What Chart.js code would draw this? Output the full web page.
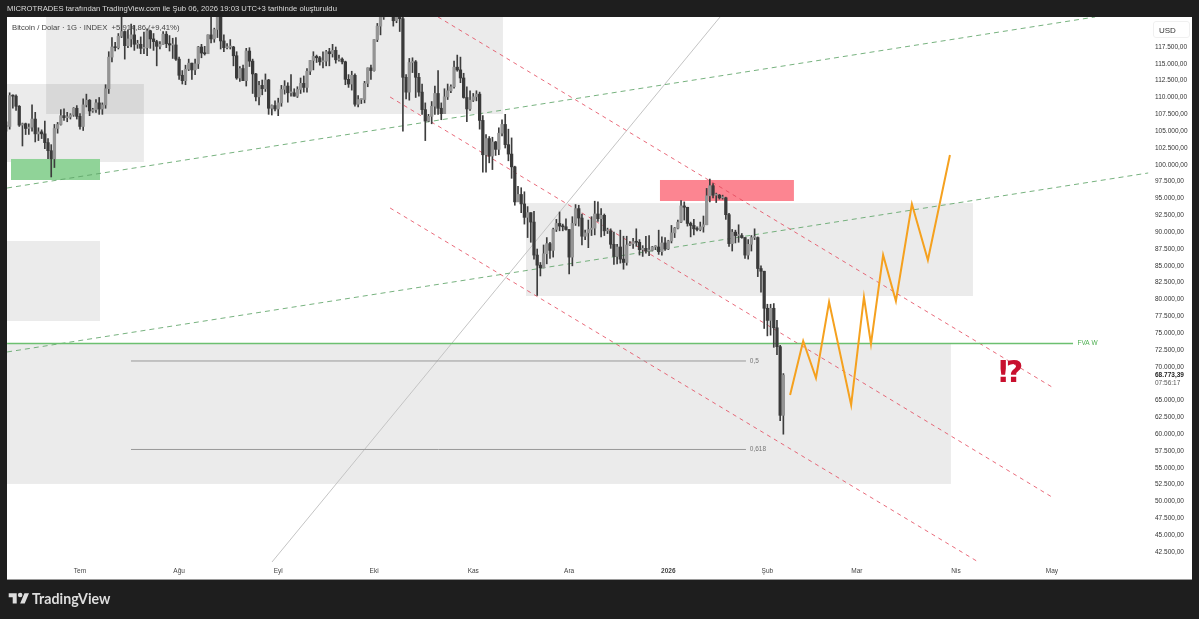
<!DOCTYPE html>
<html lang="tr">
<head>
<meta charset="utf-8">
<title>Bitcoin / Dolar</title>
<script src="https://cdn.jsdelivr.net/npm/chart.js@4"></script>
<style>
    html, body { margin: 0; padding: 0; background: #1e1e1e; width: 1199px; height: 619px; overflow: hidden; }
    #wrap { position: relative; width: 1199px; height: 619px; font-family: "Liberation Sans", sans-serif; }
    canvas { position: absolute; left: 0; top: 0; }
    .overlay { position: absolute; white-space: nowrap; }
    #header { left: 7px; top: 4px; font-size: 7.67px; color: #dcdcdc; }
    #legend { left: 12px; top: 23px; font-size: 7.7px; color: #444; }
    #usd { left: 1153px; top: 21px; width: 37px; height: 17px; line-height: 17px; font-size: 8px; color: #333; border: 1px solid #f0f0f0; border-radius: 3px; box-sizing: border-box; padding-left: 5px; }
    #logo { left: 8px; top: 590px; display: flex; align-items: center; color: #dedede; font-family: Lato, sans-serif; font-size: 14.2px; font-weight: 700; }
    #logo svg { width: 22px; height: 16px; margin-right: 2px; fill: #dedede; }
</style>
</head>
<body>
<div id="wrap">
    <canvas id="chart" width="1199" height="619"></canvas>
    <div class="overlay" id="header">MICROTRADES tarafından TradingView.com ile Şub 06, 2026 19:03 UTC+3 tarihinde oluşturuldu</div>
    <div class="overlay" id="legend">Bitcoin / Dolar · 1G · INDEX &nbsp;+5.914,86 (+9,41%)</div>
    <div class="overlay" id="usd">USD</div>
    <div class="overlay" id="logo"><svg viewBox="0 0 36 28"><path d="M14 22H7V11H0V4h14v18zM28 22h-8l7.5-18h8L28 22z"></path><circle cx="20" cy="7" r="4"></circle></svg>TradingView</div>
</div>
<script>
// 1 Tem 2025 = gün 0, fiyatlar bin USD
const firstCandleDay = -23;

const candleOpen = [
    105.7,105.7,110.3,110.2,108.7,105.9,106.1,105.4,105.6,106.8,104.6,104.9,104.6,103.3,102.1,100.9,105.4,106.0,107.3,107.0,107.1,107.4,108.4,
    107.2,105.7,108.9,109.6,108.0,108.2,109.2,108.3,108.9,111.3,116.0,117.5,117.4,119.1,119.8,117.7,118.7,119.3,117.9,117.9,117.3,117.4,119.9,118.7,118.3,117.6,117.9,119.4,118.0,117.8,117.8,
    115.7,113.3,112.5,114.2,115.1,114.1,115.0,117.5,116.6,116.5,119.3,118.7,120.1,123.3,118.4,117.4,117.5,117.5,116.2,112.9,114.3,112.5,116.9,115.4,113.5,110.1,111.8,111.3,112.6,108.4,108.8,
    108.3,109.2,111.2,111.7,110.7,110.7,110.2,111.2,112.1,111.5,113.9,115.5,116.1,115.9,115.3,115.4,116.8,116.5,117.0,115.6,115.7,115.3,112.7,112.0,113.3,109.0,109.7,109.7,112.1,114.4,
    114.0,118.6,120.6,122.3,122.4,123.5,124.8,121.4,123.3,121.7,113.0,110.8,115.2,115.3,113.0,110.8,108.2,106.5,107.2,108.7,110.6,108.4,107.6,110.1,111.0,111.6,114.5,114.1,112.9,110.0,108.3,
    109.6,110.1,110.5,106.6,101.5,103.9,101.3,103.4,102.3,104.7,106.0,103.0,101.6,99.7,94.5,95.6,94.2,92.2,92.9,91.5,86.6,85.1,84.7,86.8,88.3,87.3,90.4,91.3,90.9,90.8,
    90.4,86.3,91.3,93.5,92.1,89.4,89.9,90.4,90.6,92.7,92.0,92.5,90.2,90.2,88.2,86.4,87.8,86.0,85.5,88.1,88.3,88.6,88.5,87.4,87.6,87.2,87.3,87.8,87.8,87.1,88.4,
    87.5,88.7,89.9,90.6,91.5,93.9,93.7,91.3,91.0,90.5,90.4,90.8,91.1,95.4,96.9,95.5,95.5,95.1,95.1,92.6,88.3,90.0,89.5,89.5,89.2,86.6,88.2,89.2,89.2,84.6,84.2,
    78.7,76.9,78.7,75.8,73.0,62.8
];
const candleHigh = [
    106.4,110.7,110.4,110.4,108.8,106.2,106.2,106.1,108.9,107.8,105.5,105.2,106.5,103.9,103.0,106.0,106.3,108.2,108.3,107.8,107.6,108.5,108.8,
    107.6,109.8,110.5,109.7,108.4,109.7,110.0,109.2,111.9,116.8,118.9,118.2,119.5,123.2,119.9,120.0,120.9,120.7,118.5,119.0,119.7,120.2,120.0,119.5,118.5,118.3,119.8,119.8,119.2,118.8,118.9,
    116.0,114.0,114.8,115.7,115.1,115.7,117.6,117.9,117.6,119.3,122.3,120.3,123.7,124.5,119.3,118.0,118.6,117.6,116.8,114.6,114.8,117.3,117.4,115.7,113.6,112.4,112.6,113.5,112.7,108.9,109.5,
    109.9,111.8,112.5,112.2,113.4,111.3,111.6,112.9,113.2,114.3,115.5,116.8,116.3,116.1,116.8,117.0,117.3,117.9,117.5,116.3,115.9,115.4,113.4,113.9,113.5,110.3,109.8,112.4,114.4,114.8,
    118.6,121.0,123.9,122.9,125.7,126.2,125.1,124.1,123.7,122.5,113.4,115.8,115.9,115.5,113.6,112.0,109.2,107.5,109.4,111.7,114.0,109.2,111.3,112.0,111.9,115.4,116.3,116.0,113.6,111.6,111.0,
    110.6,111.0,110.8,107.3,104.5,104.2,104.1,103.5,105.5,106.7,107.5,105.3,104.0,99.8,96.8,96.6,96.0,93.8,92.9,93.1,87.5,85.5,88.1,89.2,88.5,90.6,91.9,93.0,91.2,92.0,
    90.4,92.3,94.1,94.0,92.7,90.3,91.8,92.3,94.6,94.5,93.5,92.7,90.6,90.5,90.0,88.2,90.3,89.4,89.4,88.6,89.1,90.5,88.9,88.0,89.4,89.5,87.9,88.0,90.3,89.3,89.2,
    88.8,91.0,90.7,91.8,94.7,94.5,93.7,91.5,91.9,90.8,91.5,92.4,96.5,97.9,97.2,95.8,95.6,95.5,95.2,92.8,90.4,90.3,91.1,89.8,89.2,88.9,89.5,90.5,89.3,85.0,84.2,
    79.3,79.3,79.4,76.9,73.2,69.0
];
const candleLow = [
    105.0,105.3,108.4,108.1,105.7,102.8,104.5,104.5,105.0,103.4,103.6,103.9,102.4,100.9,98.2,99.6,104.7,105.9,106.6,106.4,106.8,107.2,106.8,
    105.3,105.1,108.6,107.3,107.8,107.8,107.5,107.5,108.4,110.6,115.3,116.9,117.2,118.9,115.7,117.4,117.5,117.0,117.3,116.5,116.5,116.2,117.3,117.0,114.7,117.2,117.9,117.4,116.9,115.8,115.5,
    112.7,112.0,111.9,114.0,112.7,113.4,114.3,115.9,116.3,116.5,118.1,118.2,118.9,117.2,116.8,117.2,117.2,114.7,112.7,112.4,112.6,111.7,114.6,110.6,109.5,108.9,110.4,110.9,107.5,107.4,108.0,
    107.3,108.7,110.5,109.3,110.2,110.2,110.0,110.6,110.8,110.8,113.4,114.1,115.2,114.8,114.4,114.7,114.7,116.0,115.1,115.4,115.0,111.9,111.5,111.1,108.7,108.6,109.1,109.2,111.6,112.7,
    113.9,118.3,119.3,121.6,122.1,123.1,120.6,121.1,119.8,105.0,109.8,109.6,113.7,110.0,110.2,107.5,103.6,106.4,106.1,107.5,107.5,106.7,107.6,109.7,110.7,111.4,113.9,112.2,109.9,106.4,108.1,
    109.4,109.5,105.3,98.9,98.9,100.3,99.3,101.4,101.5,104.3,102.5,100.6,98.0,94.0,94.6,92.9,91.2,89.2,88.5,86.0,80.6,83.5,84.7,85.3,86.1,86.3,90.1,90.2,90.2,90.3,
    83.8,85.0,91.0,90.9,88.1,88.9,87.7,89.5,89.6,91.6,89.3,89.5,89.8,87.6,85.2,85.3,85.4,84.5,85.1,88.0,87.6,87.9,86.6,86.4,86.9,86.5,87.2,87.4,86.7,86.6,87.3,
    87.4,88.4,89.2,90.5,91.4,91.8,90.9,89.3,89.6,90.2,90.2,90.0,91.1,94.5,95.1,94.4,94.9,94.9,91.9,87.9,87.2,88.4,88.5,89.1,86.1,86.0,87.2,88.9,83.4,81.1,75.7,
    74.6,74.7,72.9,71.8,62.0,60.0
];
const candleClose = [
    105.7,110.3,110.2,108.7,105.9,106.1,105.4,105.6,106.8,104.6,104.9,104.6,103.3,102.1,100.9,105.4,106.0,107.3,107.0,107.1,107.4,108.4,107.2,
    105.7,108.9,109.6,108.0,108.2,109.2,108.3,108.9,111.3,116.0,117.5,117.4,119.1,119.8,117.7,118.7,119.3,117.9,117.9,117.3,117.4,119.9,118.7,118.3,117.6,117.9,119.4,118.0,117.8,117.8,115.7,
    113.3,112.5,114.2,115.1,114.1,115.0,117.5,116.6,116.5,119.3,118.7,120.1,123.3,118.4,117.4,117.5,117.5,116.2,112.9,114.3,112.5,116.9,115.4,113.5,110.1,111.8,111.3,112.6,108.4,108.8,108.3,
    109.2,111.2,111.7,110.7,110.7,110.2,111.2,112.1,111.5,113.9,115.5,116.1,115.9,115.3,115.4,116.8,116.5,117.0,115.6,115.7,115.3,112.7,112.0,113.3,109.0,109.7,109.7,112.1,114.4,114.0,
    118.6,120.6,122.3,122.4,123.5,124.8,121.4,123.3,121.7,113.0,110.8,115.2,115.3,113.0,110.8,108.2,106.5,107.2,108.7,110.6,108.4,107.6,110.1,111.0,111.6,114.5,114.1,112.9,110.0,108.3,109.6,
    110.1,110.5,106.6,101.5,103.9,101.3,103.4,102.3,104.7,106.0,103.0,101.6,99.7,94.5,95.6,94.2,92.2,92.9,91.5,86.6,85.1,84.7,86.8,88.3,87.3,90.4,91.3,90.9,90.8,90.4,
    86.3,91.3,93.5,92.1,89.4,89.9,90.4,90.6,92.7,92.0,92.5,90.2,90.2,88.2,86.4,87.8,86.0,85.5,88.1,88.3,88.6,88.5,87.4,87.6,87.2,87.3,87.8,87.8,87.1,88.4,87.5,
    88.7,89.9,90.6,91.5,93.9,93.7,91.3,91.0,90.5,90.4,90.8,91.1,95.4,96.9,95.5,95.5,95.1,95.1,92.6,88.3,90.0,89.5,89.5,89.2,86.6,88.2,89.2,89.2,84.6,84.2,78.7,
    76.9,78.7,75.8,73.0,62.8,68.77
];

// projeksiyon çizgisi [gün, fiyat]
const projection = [[222.1,65.82],[226.2,73.84],[230.2,68.35],[234.3,79.63],[241.2,64.34],[245.2,80.37],[247.4,73.4],[251.2,86.61],[255.2,79.78],[260.2,94.19],[265.2,85.87],[272.1,101.46]];

const greenLines = [
    [[-22.8,96.56],[317.5,121.96]],
    [[-22.8,72.21],[334.1,98.79]]
];
const redLines = [
    [[112,121.96],[304,67.01]],
    [[97,110.07],[304,50.67]],
    [[97,93.59],[281.5,40.87]]
];
const greyLine = [[60.06,41.02],[200.2,121.96]];
const fvaLine = [[-22.8,73.47],[310.6,73.47]];
const fibHalf = [[15.95,70.87],[208.3,70.87]];
const fibGolden = [[15.95,57.73],[208.3,57.73]];

// [gün1, gün2, üst, alt]
const greyZones = [
    [-10.6,132.3,121.96,107.55],
    [-22.83,20,112.01,100.42],
    [-22.83,6.26,88.69,76.81],
    [139.5,279.3,94.33,80.52],
    [-22.83,272.4,73.4,52.61]
];
const greenZone = [-21.58,6.26,100.87,97.75];
const redZone = [181.4,223.3,97.75,94.63];

const monthDays = [0,31,62,92,123,153,184,215,243,274,304];
const monthLabels = ['Tem','Ağu','Eyl','Eki','Kas','Ara','2026','Şub','Mar','Nis','May'];
const priceTicks = [117.5,115,112.5,110,107.5,105,102.5,100,97.5,95,92.5,90,87.5,85,82.5,80,77.5,75,72.5,70,65,62.5,60,57.5,55,52.5,50,47.5,45,42.5];
const lastPrice = 68.773;
const lastPriceText = '68.773,39';
const countdownText = '07:56:17';

function formatPrice(value) {
    return (value * 1000).toLocaleString('de-DE', { minimumFractionDigits: 2, maximumFractionDigits: 2 });
}

function toPoints(line) {
    return line.map(p => ({ x: p[0], y: p[1] }));
}

function lineDataset(line, color, width, dash, order) {
    return {
        type: 'line',
        data: toPoints(line),
        borderColor: color,
        borderWidth: width,
        borderDash: dash,
        pointRadius: 0,
        tension: 0,
        order: order
    };
}

const candleDays = candleClose.map((_, i) => firstCandleDay + i);
const isUp = candleClose.map((c, i) => c >= candleOpen[i]);

const wickDataset = {
    type: 'bar',
    data: candleDays.map((d, i) => ({ x: d, y: [candleLow[i], candleHigh[i]] })),
    backgroundColor: '#3d3d3d',
    barThickness: 1,
    grouped: false,
    order: 12
};
const bodyDataset = {
    type: 'bar',
    data: candleDays.map((d, i) => ({ x: d, y: [candleOpen[i], candleClose[i]] })),
    backgroundColor: candleDays.map((_, i) => isUp[i] ? '#949494' : '#3a3a3a'),
    barThickness: 2.6,
    minBarLength: 1,
    grouped: false,
    order: 11
};

// arka plan ve bölgeler
const backdropPlugin = {
    id: 'backdrop',
    beforeDraw(chart) {
        const ctx = chart.ctx;
        ctx.save();
        ctx.fillStyle = '#ffffff';
        ctx.fillRect(7, 17, 1185, 562);
        ctx.fillStyle = '#9a9a9a';
        ctx.fillRect(7, 579, 1185, 1);
        ctx.restore();
    },
    beforeDatasetsDraw(chart) {
        const { ctx, chartArea, scales: { x, y } } = chart;
        const drawZone = (zone, color) => {
            const left = x.getPixelForValue(zone[0]);
            const right = x.getPixelForValue(zone[1]);
            const top = y.getPixelForValue(zone[2]);
            const bottom = y.getPixelForValue(zone[3]);
            ctx.fillStyle = color;
            ctx.fillRect(left, top, right - left, bottom - top);
        };
        ctx.save();
        ctx.beginPath();
        ctx.rect(chartArea.left, chartArea.top, chartArea.width, chartArea.height);
        ctx.clip();
        greyZones.forEach(z => drawZone(z, 'rgba(0,0,0,0.08)'));
        drawZone(greenZone, '#90d398');
        drawZone(redZone, '#fc8591');
        ctx.restore();
    },
    afterDatasetsDraw(chart) {
        const { ctx, scales: { x, y } } = chart;
        const note = (text, day, price, font, color, align) => {
            ctx.font = font;
            ctx.fillStyle = color;
            ctx.textAlign = align || 'left';
            ctx.textBaseline = 'middle';
            ctx.fillText(text, x.getPixelForValue(day), y.getPixelForValue(price));
        };
        ctx.save();
        note('0,5', 209.5, 70.87, '6.5px "Liberation Sans"', '#777');
        note('0,618', 209.5, 57.73, '6.5px "Liberation Sans"', '#777');
        note('FVA W', 312, 73.47, '6.5px "Liberation Sans"', '#4caf50');
        note('⁉', 291.2, 68.93, 'bold 30px "DejaVu Sans"', '#c8102e', 'center');
        // son fiyat etiketi
        const py = y.getPixelForValue(lastPrice);
        ctx.fillStyle = '#ffffff';
        ctx.fillRect(1153, py - 5, 38, 18);
        ctx.font = 'bold 6.5px "Liberation Sans"';
        ctx.fillStyle = '#222';
        ctx.textAlign = 'left';
        ctx.fillText(lastPriceText, 1155, py);
        ctx.font = '6.5px "Liberation Sans"';
        ctx.fillStyle = '#555';
        ctx.fillText(countdownText, 1155, py + 8);
        ctx.restore();
    }
};

new Chart(document.getElementById('chart').getContext('2d'), {
    type: 'bar',
    data: {
        datasets: [
            wickDataset,
            bodyDataset,
            lineDataset(greyLine, '#c4c4c4', 1, [], 20),
            lineDataset(greenLines[0], 'rgba(95,165,105,0.85)', 1, [5, 4], 15),
            lineDataset(greenLines[1], 'rgba(95,165,105,0.85)', 1, [5, 4], 15),
            lineDataset(redLines[0], 'rgba(228,70,90,0.8)', 1, [4, 4], 14),
            lineDataset(redLines[1], 'rgba(228,70,90,0.8)', 1, [4, 4], 14),
            lineDataset(redLines[2], 'rgba(228,70,90,0.8)', 1, [4, 4], 14),
            lineDataset(fvaLine, '#6cc070', 1.6, [], 13),
            lineDataset(fibHalf, '#999999', 1, [], 13),
            lineDataset(fibGolden, '#999999', 1, [], 13),
            lineDataset(projection, '#f5a11f', 2, [], 1)
        ]
    },
    plugins: [backdropPlugin],
    options: {
        responsive: false,
        animation: false,
        layout: { padding: { left: 7, top: 17, right: 7, bottom: 40 } },
        plugins: { legend: { display: false }, tooltip: { enabled: false } },
        scales: {
            x: {
                type: 'linear',
                offset: false,
                min: -22.83,
                max: 335.3,
                grid: { display: false, drawTicks: false },
                border: { display: false },
                afterBuildTicks: scale => { scale.ticks = monthDays.map(d => ({ value: d })); },
                afterFit: scale => { scale.height = 17; },
                ticks: {
                    autoSkip: false,
                    maxRotation: 0,
                    padding: 5,
                    color: '#444',
                    font: ctx => ({ family: 'Liberation Sans', size: 6.5, weight: ctx.tick && ctx.tick.value === 184 ? 'bold' : 'normal' }),
                    callback: value => monthLabels[monthDays.indexOf(value)]
                }
            },
            y: {
                position: 'right',
                min: 41.02,
                max: 121.955,
                grid: { display: false, drawTicks: false },
                border: { display: false },
                afterBuildTicks: scale => { scale.ticks = priceTicks.map(v => ({ value: v })); },
                afterFit: scale => { scale.width = 40; },
                ticks: {
                    autoSkip: false,
                    padding: 3,
                    color: '#333',
                    font: { family: 'Liberation Sans', size: 6.5 },
                    callback: value => formatPrice(value)
                }
            }
        }
    }
});
</script>
</body>
</html>
